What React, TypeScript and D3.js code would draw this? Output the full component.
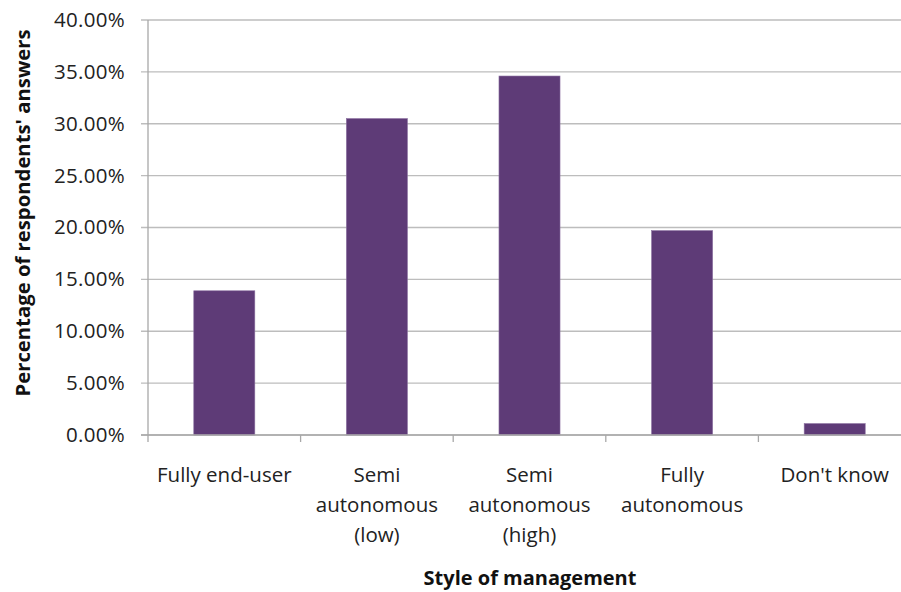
import React from "react";
import * as d3 from "d3";

const categories: string[][] = [
  ["Fully end-user"],
  ["Semi", "autonomous", "(low)"],
  ["Semi", "autonomous", "(high)"],
  ["Fully", "autonomous"],
  ["Don't know"],
];
const values: number[] = [0.139, 0.305, 0.346, 0.197, 0.011];
const yTicks: number[] = [0, 0.05, 0.1, 0.15, 0.2, 0.25, 0.3, 0.35, 0.4];

const W = 901;
const H = 592;
const left = 148;
const right = 911;
const top = 20;
const bottom = 435;
const font = "'Open Sans', sans-serif";

export default function App() {
  const x = d3
    .scaleBand<number>()
    .domain(values.map((_, i) => i))
    .range([left, right])
    .paddingInner(0)
    .paddingOuter(0);
  const y = d3.scaleLinear().domain([0, 0.4]).range([bottom, top]);
  const fmt = d3.format(".2%");
  const step = x.step();
  const bw = step * 0.4;

  return (
    <svg
      width={W}
      height={H}
      style={{ position: "absolute", left: 0, top: 0, background: "#fff" }}
      fontFamily={font}
    >
      <rect x={0} y={0} width={W} height={H} fill="#fff" />
      {yTicks.map((t) => (
        <g key={t}>
          <line x1={left - 7} x2={right} y1={y(t)} y2={y(t)} stroke="#bdbdbd" strokeWidth={1.3} />
          <text
            x={125}
            y={y(t)}
            dy="0.34em"
            textAnchor="end"
            fontSize={20.5}
            letterSpacing={0.3}
            fill="#222"
          >
            {fmt(t)}
          </text>
        </g>
      ))}
      <line x1={left} x2={left} y1={top} y2={bottom + 7} stroke="#a8a8a8" strokeWidth={1.3} />
      {values.map((_, i) => (
        <line
          key={"t" + i}
          x1={left + step * (i + 1)}
          x2={left + step * (i + 1)}
          y1={bottom}
          y2={bottom + 7}
          stroke="#a8a8a8"
          strokeWidth={1.3}
        />
      ))}
      {values.map((v, i) => (
        <rect
          key={"b" + i}
          x={(x(i) as number) + (step - bw) / 2}
          y={y(v)}
          width={bw}
          height={bottom - y(v)}
          fill="#5e3b77"
          stroke="#8a6fa0"
          strokeWidth={0.6}
        />
      ))}
      <line x1={left - 7} x2={right} y1={bottom} y2={bottom} stroke="#a8a8a8" strokeWidth={1.3} />
      {categories.map((lines, i) => (
        <text
          key={"c" + i}
          x={(x(i) as number) + step / 2}
          y={482}
          textAnchor="middle"
          fontSize={20.5}
          fill="#222"
        >
          {lines.map((l, j) => (
            <tspan key={j} x={(x(i) as number) + step / 2} dy={j === 0 ? 0 : 30}>
              {l}
            </tspan>
          ))}
        </text>
      ))}
      <text x={530} y={585} textAnchor="middle" fontSize={20} fontWeight="bold" fill="#111">
        Style of management
      </text>
      <text
        transform={`translate(30, 213) rotate(-90)`}
        textAnchor="middle"
        fontSize={20.3}
        fontWeight="bold"
        fill="#111"
      >
        Percentage of respondents' answers
      </text>
    </svg>
  );
}
